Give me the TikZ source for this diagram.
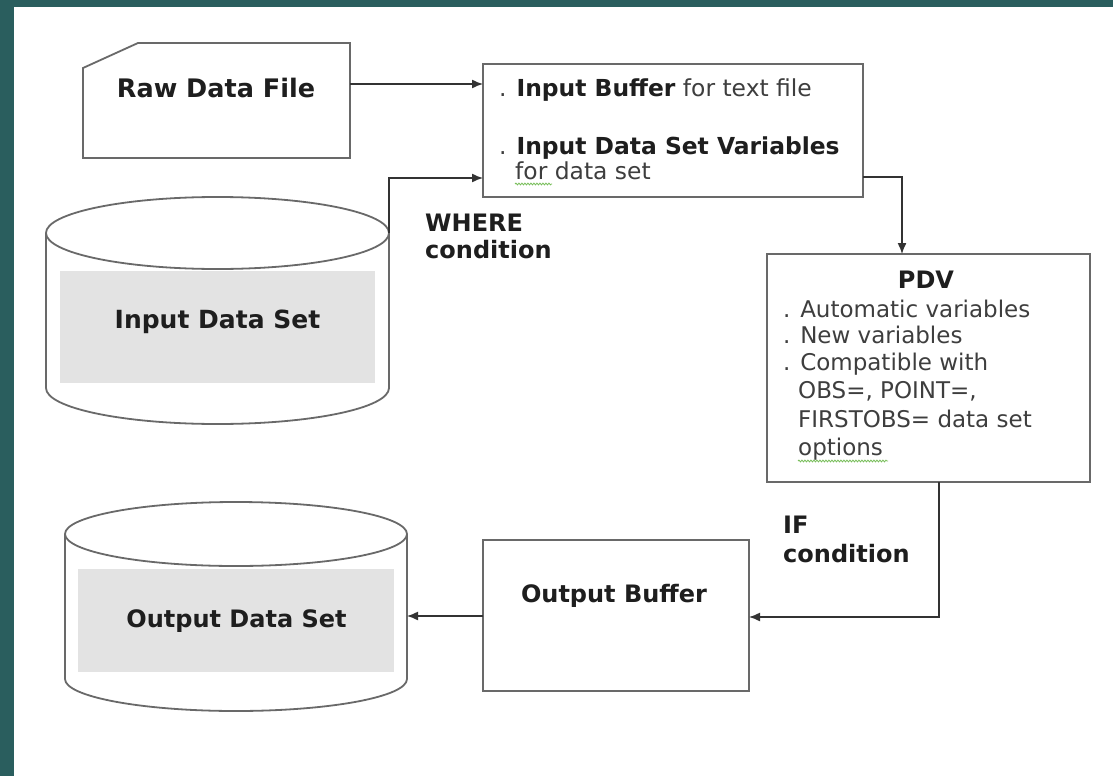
\documentclass[tikz,border=0pt]{standalone}
\usepackage{fontspec}
\setmainfont{DejaVu Sans}
\usetikzlibrary{arrows.meta,decorations.pathmorphing}

\definecolor{frame}{RGB}{42,94,94}
\definecolor{edge}{RGB}{105,105,105}
\definecolor{shade}{RGB}{227,227,227}
\definecolor{ink}{RGB}{30,30,30}
\definecolor{soft}{RGB}{62,62,62}
\definecolor{squiggle}{RGB}{120,190,90}

\begin{document}
\begin{tikzpicture}[x=1pt,y=-1pt,
  shapeline/.style={draw=edge, line width=1.8pt},
  boxnode/.style={shapeline, fill=white, rectangle, inner sep=0pt, outer sep=0pt, anchor=north west},
  panel/.style={fill=shade, rectangle, inner sep=0pt, outer sep=0pt, anchor=north west},
  link/.style={draw=black!80, line width=1.4pt, -{Latex[length=11pt,width=9pt]}},
  bigbold/.style={font=\fontsize{24}{28}\selectfont\bfseries, text=ink, inner sep=0pt},
  plain/.style={font=\fontsize{23}{27}\selectfont, text=soft, inner sep=0pt, anchor=base west},
  bufline/.style={plain, font=\fontsize{23.4}{27}\selectfont},
  spell/.style={draw=squiggle, line width=0.8pt, decorate, decoration={snake, amplitude=0.9pt, segment length=3pt}}
]
% page frame
\fill[frame] (0,0) rectangle (1113,776);
\fill[white] (14,7) rectangle (1113,776);

% raw data file (card with a cut corner)
\node[inner sep=0pt, outer sep=0pt, minimum width=267pt, minimum height=115pt, anchor=north west] (raw) at (83,43) {};
\draw[shapeline, fill=white] ([yshift=-25pt]raw.north west) -- ([xshift=55pt]raw.north west)
  -- (raw.north east) -- (raw.south east) -- (raw.south west) -- cycle;
\node[bigbold, anchor=base, font=\fontsize{25.5}{30}\selectfont\bfseries] (rawtxt) at (216,97) {Raw Data File};

% input buffer box
\node[boxnode, minimum width=380pt, minimum height=133pt] (buf) at (483,64) {};
\node[bufline] (buf1) at (499,96) {. \textcolor{ink}{\bfseries Input Buffer} for text file};
\node[bufline] (buf2) at (499,154) {. \textcolor{ink}{\bfseries Input Data Set Variables}};
\node[bufline] (buf3) at (515,179) {for data set};
\draw[spell] (515,184) -- (552,184);

% input data set cylinder
\fill[white] (46,233) -- (46,388) arc[start angle=180, end angle=0, x radius=171.5, y radius=36] -- (389,233) -- cycle;
\draw[shapeline] (46,233) -- (46,388) arc[start angle=180, end angle=0, x radius=171.5, y radius=36] -- (389,233);
\draw[shapeline, fill=white] (217.5,233) ellipse[x radius=171.5, y radius=36];
\node[panel, minimum width=315pt, minimum height=112pt] (inds) at (60,271) {};
\node[bigbold, anchor=base, font=\fontsize{25}{29}\selectfont\bfseries] (indstxt) at (217.5,328) {Input Data Set};
\coordinate (indsR) at (389,233);

% where condition label
\node[bigbold, anchor=base west] (where1) at (425,231) {WHERE};
\node[bigbold, anchor=base west] (where2) at (425,258) {condition};

% PDV box
\node[boxnode, minimum width=323pt, minimum height=228pt] (pdv) at (767,254) {};
\node[bigbold, anchor=base] (pdvtitle) at (926,288) {PDV};
\node[plain] (pdv1) at (783,317) {. Automatic variables};
\node[plain] (pdv2) at (783,343) {. New variables};
\node[plain] (pdv3) at (783,370) {. Compatible with};
\node[plain] (pdv4) at (798,398) {OBS=, POINT=,};
\node[plain] (pdv5) at (798,427) {FIRSTOBS= data set};
\node[plain] (pdv6) at (798,455) {options};
\draw[spell] (798,461) -- (888,461);

% if condition label
\node[bigbold, anchor=base west] (if1) at (783,533) {IF};
\node[bigbold, anchor=base west] (if2) at (783,562) {condition};

% output buffer box
\node[boxnode, minimum width=266pt, minimum height=151pt] (ob) at (483,540) {};
\node[bigbold, anchor=base] (obtxt) at (614,602) {Output Buffer};

% output data set cylinder
\fill[white] (65,534) -- (65,679) arc[start angle=180, end angle=0, x radius=171, y radius=32] -- (407,534) -- cycle;
\draw[shapeline] (65,534) -- (65,679) arc[start angle=180, end angle=0, x radius=171, y radius=32] -- (407,534);
\draw[shapeline, fill=white] (236,534) ellipse[x radius=171, y radius=32];
\node[panel, minimum width=316pt, minimum height=103pt] (outds) at (78,569) {};
\node[bigbold, anchor=base] (outdstxt) at (236.5,627) {Output Data Set};
\coordinate (outdsR) at (407,616);

% connectors
\draw[link] (raw.east |- 0,84) -- (buf.west |- 0,84);
\draw[link] (indsR) |- (buf.west |- 0,178);
\draw[link] (buf.east |- 0,177) -| ([xshift=-26.5pt]pdv.north);
\draw[link] ([xshift=10.5pt]pdv.south) |- (ob.east |- 0,617);
\draw[link] (ob.west |- outdsR) -- (outdsR);
\end{tikzpicture}
\end{document}
